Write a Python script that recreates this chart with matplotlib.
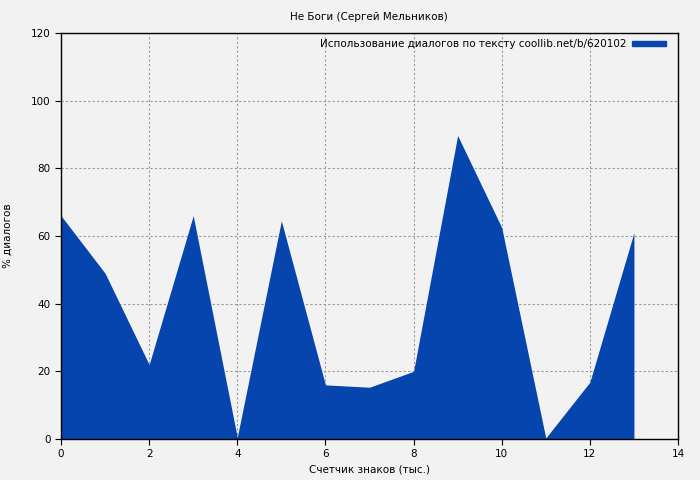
import matplotlib
matplotlib.use("Agg")
import matplotlib.pyplot as plt
from matplotlib.patches import Patch

x_vals = [0, 1, 2, 3, 4, 5, 6, 7, 8, 9, 10, 11, 12, 13]
dialog_pct = [66, 49, 22, 66, 0.5, 64.5, 16, 15.3, 20, 89.7, 62.5, 0.3, 16.8, 61]
title = "Не Боги (Сергей Мельников)"
legend_label = "Использование диалогов по тексту coollib.net/b/620102"
xlabel = "Счетчик знаков (тыс.)"
ylabel = "% диалогов"

bg = "#f2f2f2"
fill_color = "#0645AD"

fig = plt.figure(figsize=(7, 4.8), dpi=100, facecolor=bg)
ax = fig.add_axes([61/700, 41/480, 617/700, 406/480], facecolor=bg)

ax.fill_between(x_vals, dialog_pct, 0, color=fill_color, linewidth=0, zorder=2)
ax.set_xlim(0, 14)
ax.set_ylim(0, 120)
ax.set_xticks(range(0, 15, 2))
ax.set_yticks(range(0, 121, 20))
ax.grid(True, color="#999999", linestyle=(0, (2, 2)), linewidth=0.8, zorder=1)
ax.set_axisbelow(True)
for sp in ax.spines.values():
    sp.set_color("black")
    sp.set_linewidth(1)
    sp.set_zorder(3)
ax.tick_params(labelsize=7.5, length=4, direction="out")
ax.set_xlabel(xlabel, fontsize=7.5, labelpad=4)
ax.set_ylabel(ylabel, fontsize=7.5, labelpad=13)
fig.text(0.527, 0.965, title, ha="center", va="center", fontsize=7.5)

leg = ax.legend(handles=[Patch(color=fill_color, label=legend_label)],
                loc="upper right", frameon=False, fontsize=7.5,
                markerfirst=False, handlelength=3.2, handleheight=0.45,
                borderaxespad=0.0, handletextpad=0.6,
                bbox_to_anchor=(0.987, 0.995))

fig.savefig("out.png", dpi=100, facecolor=bg)
